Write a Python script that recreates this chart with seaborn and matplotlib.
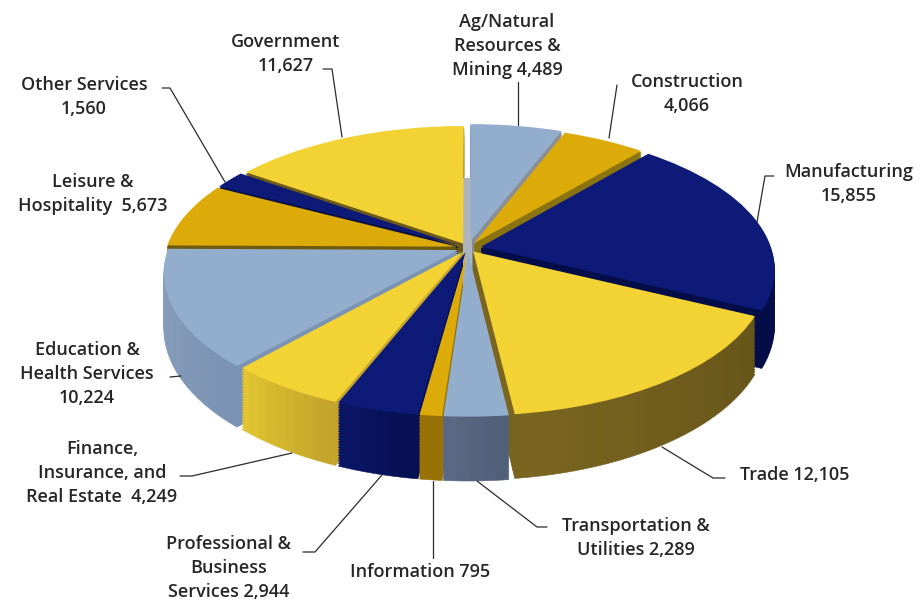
import numpy as np
import matplotlib
matplotlib.use('Agg')
import matplotlib.pyplot as plt
from matplotlib.patches import Wedge, Rectangle
from matplotlib.transforms import Transform
from matplotlib.colors import to_rgb
import seaborn as sns

# Employment by sector, clockwise from 12 o'clock
sectors = ['Ag/Natural\nResources &\nMining {}', 'Construction\n{}', 'Manufacturing\n{}',
           'Trade {}', 'Transportation &\nUtilities {}', 'Information {}',
           'Professional &\nBusiness\nServices {}', 'Finance,\nInsurance, and\nReal Estate  {}',
           'Education &\nHealth Services\n{}', 'Leisure &\nHospitality  {}',
           'Other Services\n{}', 'Government\n{}']
values = [4489, 4066, 15855, 12105, 2289, 795, 2944, 4249, 10224, 5673, 1560, 11627]
explode = [0.05, 0.04, 0.045, 0.03, 0.03, 0.03, 0.03, 0.03, 0.035, 0.04, 0.04, 0.035]

blue = '#93adcd'
gold = '#dcab0a'
navy = '#0d1a78'
yellow = '#f2d333'
top_colors = sns.color_palette([blue, gold, navy, yellow, blue, gold, navy, yellow, blue, gold, navy, yellow])

# side wall colours (low angle end, high angle end)
wall_colors = [('#8a8f95', '#7f8c9c'), ('#8a7310', '#8a7310'), ('#050d48', '#081058'),
               ('#7a6520', '#66551a'), ('#5a6a84', '#505f78'), ('#a07808', '#8f6a05'),
               ('#0a1668', '#070f50'), ('#e3c632', '#c2a22a'), ('#8aa1bf', '#7b93b2'),
               ('#6e5a10', '#6e5a10'), ('#0a1040', '#0a1040'), ('#6e5a18', '#6e5a18')]

label_pos = [(507, 46), (687, 94), (849, 184), (795, 475), (636, 538), (420, 572),
             (229, 568), (102, 473), (87, 374), (93, 194), (84, 97), (286, 54)]

leaders = [[(518, 82), (518, 125)],
           [(617, 85), (609, 138)],
           [(774, 176), (765, 176), (757, 222)],
           [(725, 478), (713, 478), (662, 447)],
           [(547, 527), (537, 527), (477, 481)],
           [(433, 558), (433, 481)],
           [(303, 552), (315, 552), (382, 475)],
           [(180, 476), (192, 476), (292, 453)],
           [(170, 377), (181, 376)],
           [(162, 88), (170, 88), (225, 182)],
           [(323, 69), (332, 69), (342, 137)]]

CX, CY = 468, 248
AX, BY = 299, 141.5
K = 0.161
DEPTH = 54


class Tilt(Transform):
    # projects the flat unit pie onto the tilted disc, z pushes it down
    input_dims = 2
    output_dims = 2
    has_inverse = False

    def __init__(self, z=0.0):
        super().__init__()
        self.z = z

    def transform_non_affine(self, xy):
        xy = np.asarray(xy)
        w = 1 + K * xy[:, 1]
        return np.column_stack([CX + AX * xy[:, 0] / w,
                                CY - BY * xy[:, 1] / w + DEPTH * self.z / w])


sns.set_theme(style='white')
plt.rcParams['font.family'] = ['Open Sans', 'DejaVu Sans']

fig = plt.figure(figsize=(9.23, 6.03), dpi=100)
ax = fig.add_axes([0, 0, 1, 1])

wedges, _ = ax.pie(values, explode=explode, colors=top_colors, startangle=90,
                   counterclock=False, radius=0.97, normalize=True)
ax.set_aspect('auto')
ax.set_xlim(0, 923)
ax.set_ylim(603, 0)
ax.axis('off')

# side walls, stacked layers from the bottom up
n_layers = 24
for i in range(n_layers, 0, -1):
    tilt = Tilt(i / n_layers) + ax.transData
    for w, (c1, c2) in zip(wedges, wall_colors):
        n_sub = max(1, int((w.theta2 - w.theta1) / 2))
        edges = np.linspace(w.theta1, w.theta2, n_sub + 1)
        for j in range(n_sub):
            t = (j + 0.5) / n_sub
            col = tuple((1 - t) * a + t * b for a, b in zip(to_rgb(c1), to_rgb(c2)))
            p = Wedge(w.center, w.r, edges[j], edges[j + 1], fc=col, ec=col, lw=0.4, zorder=1)
            ax.add_patch(p)
            p.set_transform(tilt)

# grey post seen through the gap at the centre
ax.add_patch(Rectangle((463, 178), 9, 125, fc='#aeb4bc', ec='none', zorder=1.5))

for w in wedges:
    w.set_transform(Tilt(0) + ax.transData)
    w.set_zorder(2)
    w.set_edgecolor('none')

for pts in leaders:
    xs, ys = zip(*pts)
    ax.plot(xs, ys, color='#2b2b2b', lw=0.9, zorder=3)

for name, val, (x, y) in zip(sectors, values, label_pos):
    ax.text(x, y, name.format(f'{val:,}'), ha='center', va='center', fontsize=13,
            fontweight='semibold', color='#262626', linespacing=1.4, zorder=4)

fig.savefig('out.png', dpi=100)
